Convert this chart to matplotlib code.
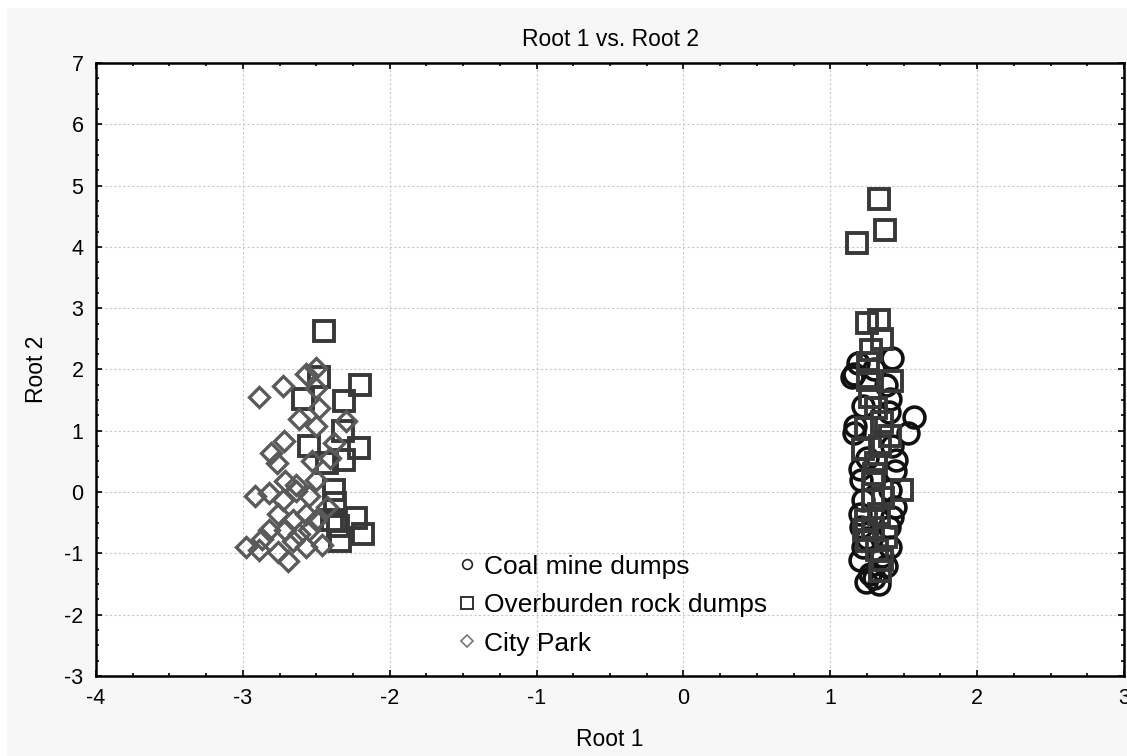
import matplotlib.pyplot as plt
from matplotlib.lines import Line2D
from matplotlib.patches import Rectangle
from matplotlib.ticker import MultipleLocator

plt.rcParams['font.family'] = ['Liberation Sans', 'DejaVu Sans']
plt.rcParams['axes.unicode_minus'] = False

# Coal mine dumps (circulos)
coal_x = [1.15, 1.19, 1.16, 1.42, 1.38, 1.41, 1.22, 1.57, 1.53, 1.17, 1.16, 1.45,
          1.44, 1.20, 1.21, 1.41, 1.22, 1.44, 1.20, 1.40, 1.21, 1.41, 1.22, 1.27,
          1.24, 1.33, 1.30, 1.38, 1.35, 1.25, 1.42, 1.25, 1.40, 1.30, 1.42, 1.20]
coal_y = [1.88, 2.11, 1.92, 2.19, 1.74, 1.52, 1.41, 1.22, 0.97, 1.08, 0.97, 0.53,
          0.34, 0.37, 0.20, 0.04, -0.13, -0.24, -0.35, -0.57, -0.57, -0.90, -0.90, -1.34,
          -1.47, -1.50, -1.40, -1.20, -1.05, -0.75, -0.40, 0.55, 1.30, 2.00, 0.75, -1.10]

# Overburden rock dumps (cuadrados)
over_x = [1.33, 1.37, 1.18, 1.25, 1.33, 1.35, 1.28, 1.26, 1.42, 1.31, 1.24, 1.41,
          1.34, 1.22, 1.31, 1.29, 1.49, 1.29, 1.33, 1.24, 1.29, 1.38, 1.32, 1.34,
          1.23, 1.26, 1.27, 1.35, 1.30, 1.36, 1.25, 1.35,
          -2.45, -2.20, -2.48, -2.59, -2.31, -2.55, -2.21, -2.31, -2.43, -2.38,
          -2.37, -2.23, -2.18, -2.34, -2.39, -2.32, -2.35]
over_y = [4.78, 4.28, 4.07, 2.76, 2.80, 2.49, 2.32, 1.83, 1.81, 1.38, 1.05, 0.92,
          0.75, 0.70, 0.48, 0.20, 0.04, -0.13, -0.35, -0.46, -0.59, -0.73, -0.95, -1.28,
          -0.62, 2.10, 1.55, 1.15, 0.30, -0.10, -0.80, -1.10,
          2.62, 1.75, 1.88, 1.52, 1.49, 0.75, 0.72, 0.53, 0.48, 0.04,
          -0.18, -0.43, -0.68, -0.79, -0.46, 1.00, -0.55]

# City Park (rombos)
park_x = [-2.89, -2.73, -2.57, -2.50, -2.50, -2.48, -2.62, -2.50, -2.30, -2.38,
          -2.72, -2.81, -2.53, -2.41, -2.77, -2.50, -2.71, -2.64, -2.92, -2.82,
          -2.73, -2.64, -2.55, -2.43, -2.76, -2.66, -2.57, -2.50, -2.82, -2.87,
          -2.98, -2.89, -2.76, -2.69, -2.66, -2.55, -2.57, -2.46, -2.62, -2.71]
park_y = [1.55, 1.73, 1.92, 2.02, 1.70, 1.38, 1.20, 1.08, 1.16, 0.80,
          0.84, 0.64, 0.51, 0.56, 0.47, 0.20, 0.18, 0.12, -0.07, -0.02,
          -0.13, 0.01, -0.07, -0.24, -0.35, -0.46, -0.35, -0.46, -0.62, -0.76,
          -0.90, -0.95, -0.98, -1.12, -0.79, -0.62, -0.90, -0.87, -0.68, -0.62]

labels = ["Coal mine dumps", "Overburden rock dumps", "City Park"]

fig = plt.figure(figsize=(11.27, 7.56), dpi=100, facecolor='white')
# fondo gris claro del marco
fig.patches.append(Rectangle((7 / 1127, 0), 1, 1 - 8 / 756, transform=fig.transFigure,
                             facecolor='#f7f7f7', edgecolor='none', zorder=-10))
ax = fig.add_axes([96 / 1127, 1 - 676 / 756, (1124 - 96) / 1127, (676 - 63) / 756])
ax.set_facecolor('white')

ax.plot(coal_x, coal_y, 'o', ls='none', ms=15, mfc='none', mec='#111111', mew=2.6, zorder=3)
ax.plot(over_x, over_y, 's', ls='none', ms=15, mfc='none', mec='#383838', mew=2.8, zorder=4)
ax.plot(park_x, park_y, 'D', ls='none', ms=10.5, mfc='none', mec='#5a5a5a', mew=2.4, zorder=5)

ax.set_xlim(-4, 3)
ax.set_ylim(-3, 7)
ax.xaxis.set_major_locator(MultipleLocator(1))
ax.yaxis.set_major_locator(MultipleLocator(1))
ax.xaxis.set_minor_locator(MultipleLocator(0.25))
ax.yaxis.set_minor_locator(MultipleLocator(0.25))
ax.tick_params(which='both', direction='in', top=True, right=True, labelsize=15.5, width=1.2)
ax.tick_params(which='major', length=4, pad=9)
ax.tick_params(which='minor', length=2.5)
ax.grid(True, which='major', ls=(0, (2, 2)), color='#c8c8c8', lw=0.8)
for s in ax.spines.values():
    s.set_linewidth(1.8)

ax.set_title("Root 1 vs. Root 2", fontsize=16.5, pad=12)
ax.set_xlabel("Root 1", fontsize=16.5, labelpad=13)
ax.set_ylabel("Root 2", fontsize=16.5, labelpad=12)

handles = [
    Line2D([], [], marker='o', ls='none', ms=7, mfc='none', mec='#222222', mew=1.2),
    Line2D([], [], marker='s', ls='none', ms=8, mfc='none', mec='#333333', mew=1.4),
    Line2D([], [], marker='D', ls='none', ms=6, mfc='none', mec='#777777', mew=1.2),
]
ax.legend(handles, labels, loc='upper left', bbox_to_anchor=(0.352, 0.198), frameon=False,
          fontsize=19, handlelength=0.7, handletextpad=0.3, labelspacing=0.55,
          borderpad=0, borderaxespad=0)

fig.savefig("out.png", dpi=100, facecolor=fig.get_facecolor())
